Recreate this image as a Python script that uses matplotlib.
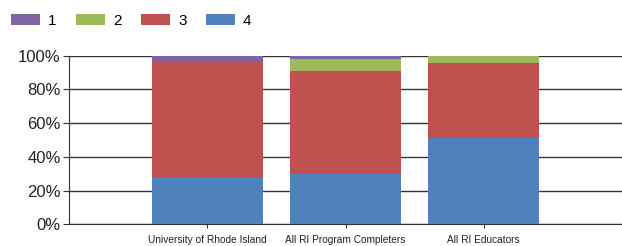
import matplotlib.pyplot as plt
import numpy as np

plt.rcParams['font.family'] = ['Liberation Sans', 'DejaVu Sans']

categories = ['University of Rhode Island', 'All RI Program Completers', 'All RI Educators']
levels = ['1', '2', '3', '4']
# percentage of each rating per group
vals = {
    '4': [28, 30, 51],
    '3': [69, 61, 44.5],
    '2': [0, 7, 4],
    '1': [3, 2, 0.5],
}
colors = {'1': '#8064A2', '2': '#9BBB59', '3': '#C0504D', '4': '#4F81BD'}

fig = plt.figure(figsize=(6.22, 2.46), dpi=100)
ax = fig.add_axes([0.111, 0.088, 0.889, 0.686])

x = np.arange(len(categories))
bottom = np.zeros(len(categories))
handles = {}
for lv in ['4', '3', '2', '1']:
    v = np.array(vals[lv], dtype=float)
    b = ax.bar(x, v, 0.8, bottom=bottom, color=colors[lv], zorder=3)
    handles[lv] = b
    bottom += v

ax.set_xlim(-1, 3)
ax.set_ylim(0, 100)
ax.set_yticks(np.arange(0, 101, 20))
ax.set_yticklabels([f'{t}%' for t in range(0, 101, 20)], fontsize=12, color='#222222')
ax.set_xticks(x)
ax.set_xticklabels(categories, fontsize=7.3, color='#222222')
ax.yaxis.grid(True, color='#333333', linewidth=1, zorder=0)
ax.set_axisbelow(True)
for s in ['top', 'right']:
    ax.spines[s].set_visible(False)
ax.spines['left'].set_color('#333333')
ax.spines['bottom'].set_color('#333333')
ax.tick_params(axis='y', length=4, color='#333333', pad=2)
ax.tick_params(axis='x', length=3, color='#333333', pad=5)

fig.legend([handles[l] for l in levels], levels, loc='upper left',
           bbox_to_anchor=(-0.004, 1.0), ncol=4, frameon=False, fontsize=11,
           handlelength=1.9, handleheight=0.8, handletextpad=0.5, columnspacing=1.3)

plt.savefig('out.png', dpi=100)
